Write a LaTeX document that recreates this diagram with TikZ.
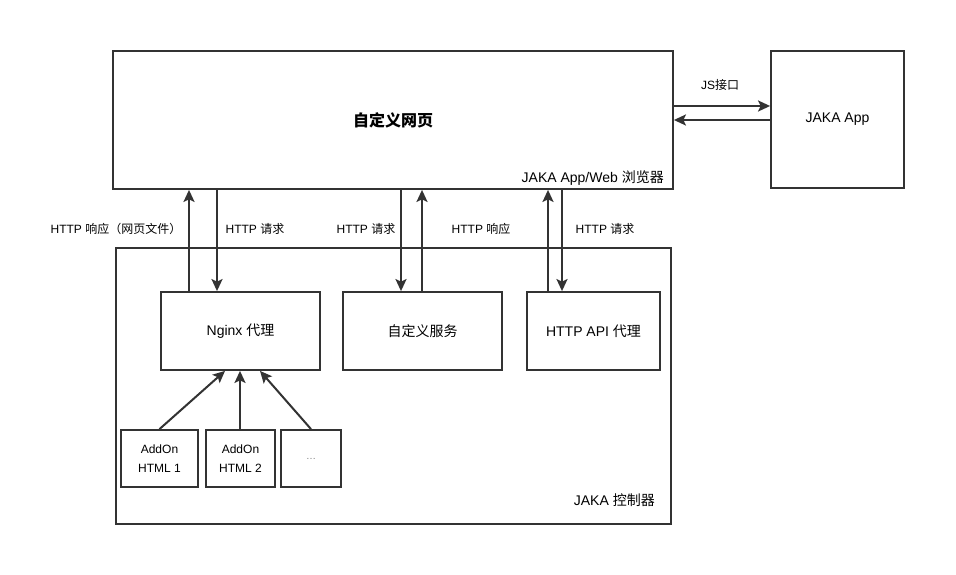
\documentclass[tikz,border=0pt]{standalone}
\usepackage{fontspec}
\setmainfont{Liberation Sans}
\newfontfamily\cjk{Noto Sans CJK SC}
\usepackage{xcolor}
\usetikzlibrary{arrows.meta}
\definecolor{linegray}{HTML}{333333}
\newcommand{\zh}[1]{{\cjk #1}}

\tikzset{
  box/.style={draw=linegray, line width=1.8pt, fill=white, inner sep=0pt,
              align=center, font=\fontsize{14}{17}\selectfont},
  addon/.style={box, minimum height=57pt, font=\fontsize{12}{19}\selectfont},
  arr/.style={draw=linegray, line width=2pt,
              -{Stealth[length=12pt, width=11pt, inset=2.5pt]}},
  lbl/.style={font=\fontsize{12}{14}\selectfont, inner sep=0pt}
}

\begin{document}
\begin{tikzpicture}[x=1pt, y=-1pt]
\useasboundingbox (0,0) rectangle (956,575);
% browser and app
\node[box, minimum width=560pt, minimum height=138pt,
      font=\fontsize{16}{19}\selectfont\bfseries] (web) at (393,120) {\zh{自定义网页}};
\node[lbl, font=\fontsize{14}{17}\selectfont, anchor=east] (webname) at (664,178) {JAKA App/Web \zh{浏览器}};
\node[box, minimum width=133pt, minimum height=137pt] (app) at (837.5,119.5) {JAKA App};
% controller
\node[box, minimum width=555pt, minimum height=276pt] (ctrl) at (393.5,386) {};
\node[lbl, font=\fontsize{14}{17}\selectfont, anchor=east] (ctrlname) at (655,500) {JAKA \zh{控制器}};
\node[box, minimum width=159pt, minimum height=78pt] (nginx) at (240.5,331) {Nginx \zh{代理}};
\node[box, minimum width=159pt, minimum height=78pt] (svc) at (422.5,331) {\zh{自定义服务}};
\node[box, minimum width=133pt, minimum height=78pt] (api) at (593.5,331) {HTTP API \zh{代理}};
% addons
\node[addon, minimum width=77pt] (addon1) at (159.5,458.5) {AddOn\\HTML 1};
\node[addon, minimum width=69pt] (addon2) at (240.5,458.5) {AddOn\\HTML 2};
\node[addon, minimum width=60pt, font=\fontsize{10}{12}\selectfont,
      text=gray] (addon3) at (311,458.5) {\dots};

% js interface
\coordinate (jsout) at ([yshift=14pt]web.east);
\coordinate (jsin) at ([yshift=0pt]web.east);
\draw[arr] (jsout) -- (jsout -| app.west);
\draw[arr] (jsin -| app.west) -- (jsin);
\node[lbl] (js) at (720,85) {JS\zh{接口}};

% http arrows
\coordinate (nup) at ([xshift=-51.5pt]nginx.north);
\coordinate (ndown) at ([xshift=-23.5pt]nginx.north);
\coordinate (sdown) at ([xshift=-21.5pt]svc.north);
\coordinate (sup) at ([xshift=-0.5pt]svc.north);
\coordinate (aup) at ([xshift=-45.5pt]api.north);
\coordinate (adown) at ([xshift=-31.5pt]api.north);
\draw[arr] (nup) -- (nup |- web.south);
\draw[arr] (ndown |- web.south) -- (ndown);
\draw[arr] (sdown |- web.south) -- (sdown);
\draw[arr] (sup) -- (sup |- web.south);
\draw[arr] (aup) -- (aup |- web.south);
\draw[arr] (adown |- web.south) -- (adown);
\node[lbl] (l1) at (116,229) {HTTP \zh{响应（网页文件）}};
\node[lbl] (l2) at (255,229) {HTTP \zh{请求}};
\node[lbl] (l3) at (366,229) {HTTP \zh{请求}};
\node[lbl] (l4) at (481,229) {HTTP \zh{响应}};
\node[lbl] (l5) at (605,229) {HTTP \zh{请求}};

% addons into nginx
\draw[arr] (addon1.north) -- ([xshift=-15.5pt]nginx.south);
\draw[arr] (addon2.north -| 240,0) -- ([xshift=-0.5pt]nginx.south);
\draw[arr] (addon3.north) -- ([xshift=19.5pt]nginx.south);
\end{tikzpicture}
\end{document}
